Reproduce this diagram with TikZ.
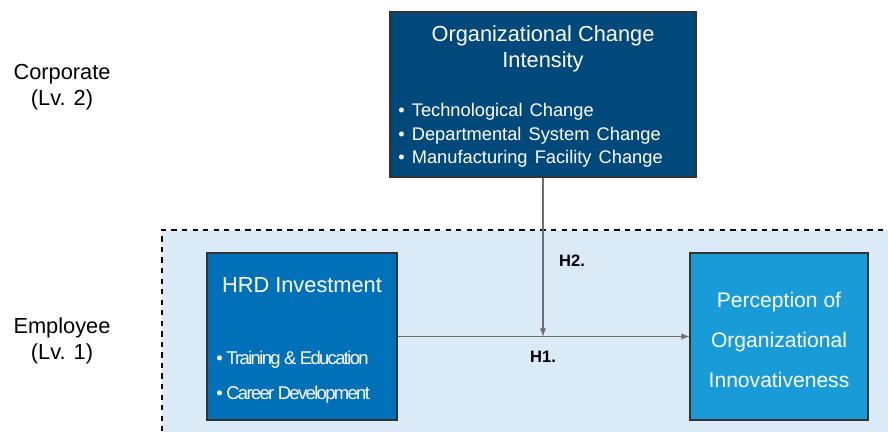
\documentclass[tikz,border=0pt]{standalone}
\usepackage{fontspec}
\setmainfont{Liberation Sans}
\newfontfamily\condfont[LetterSpace=-9]{Liberation Sans}
\newfontfamily\listfont[WordSpace=1.4]{Liberation Sans}
\usetikzlibrary{positioning}
\definecolor{navybox}{RGB}{0,73,122}
\definecolor{hrdblue}{RGB}{0,112,184}
\definecolor{percblue}{RGB}{24,155,214}
\definecolor{levelbg}{RGB}{218,235,247}
\definecolor{linkgray}{RGB}{110,110,110}
\begin{document}
	\begin{tikzpicture}[-latex, auto]
		\tikzstyle{box} = [rectangle, draw=black!80, line width=0.6pt, inner sep=0pt]
		\tikzstyle{boxtext} = [text=white, inner sep=0pt]
		\tikzstyle{link} = [draw=linkgray, line width=0.6pt, -latex]
		\tikzstyle{hyp} = [font=\fontsize{9.4}{10}\selectfont\bfseries, inner sep=0pt]
		\tikzstyle{level} = [align=center, font=\fontsize{12.4}{14.7}\selectfont, inner sep=0pt]
		\useasboundingbox (0,0) rectangle (17.76,8.64);
		\clip (0,0) rectangle (17.76,8.64);
		% employee level area
		\fill[levelbg] (3.24,-0.2) rectangle (18,4.04);
		\draw[-, dashed, line width=0.8pt] (3.24,-0.2) -- (3.24,4.04) -- (18,4.04);
		% level labels
		\node[level](corp) at (1.24,6.9) {Corporate\\(Lv. 2)};
		\node[level](empl) at (1.24,1.82) {Employee\\(Lv. 1)};
		% boxes
		\node[box, fill=navybox, minimum width=6.12cm, minimum height=3.3cm](oci) at (10.86,6.75) {};
		\node[box, fill=hrdblue, minimum width=3.8cm, minimum height=3.34cm](hrd) at (6.04,1.91) {};
		\node[box, fill=percblue, minimum width=3.56cm, minimum height=3.34cm](poi) at (15.58,1.91) {};
		% texts
		\node[boxtext, align=center, font=\fontsize{12.4}{14.7}\selectfont](ocititle) at (10.86,7.66) {Organizational Change\\Intensity};
		\node[boxtext, align=left, anchor=west, font=\fontsize{10.4}{13.3}\listfont](ocilist) at (7.96,5.93) {\textbullet~Technological Change\\\textbullet~Departmental System Change\\\textbullet~Manufacturing Facility Change};
		\node[boxtext, font=\fontsize{12.4}{14.7}\selectfont](hrdtitle) at (6.04,2.94) {HRD Investment};
		\node[boxtext, align=left, anchor=west, font=\fontsize{10.5}{19.8}\selectfont\condfont](hrdlist) at (4.32,1.09) {\textbullet\ Training \& Education\\\textbullet\ Career Development};
		\node[boxtext, align=center, font=\fontsize{12}{22.7}\selectfont](poititle) at (15.58,1.84) {Perception of\\Organizational\\Innovativeness};
		% hypotheses
		\coordinate (meet) at (10.86,1.91);
		\path[link] (hrd.east) -- (poi.west);
		\path[link] (oci.south) -- (meet);
		\node[hyp](h1) at (10.86,1.5) {H1.};
		\node[hyp](h2) at (11.44,3.42) {H2.};
	\end{tikzpicture}
\end{document}
